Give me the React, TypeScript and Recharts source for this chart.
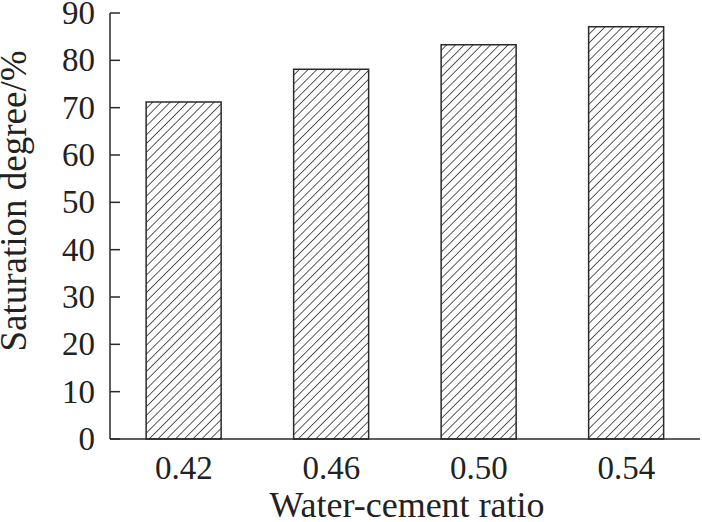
import React from 'react';
import { BarChart, Bar, XAxis, YAxis, Label } from 'recharts';

const categories = ['0.42', '0.46', '0.50', '0.54'];
const saturation = [71.2, 78.1, 83.3, 87.1];
const yTicks = [0, 10, 20, 30, 40, 50, 60, 70, 80, 90];

const data = categories.map((c, i) => ({ ratio: c, value: saturation[i] }));

const FONT = '"Liberation Serif", "Times New Roman", serif';
const INK = '#2a2a2a';
const TEXT = '#222';

const YTick = (props: any) => {
  const { x, y, payload } = props;
  return (
    <g>
      <line x1={x} y1={y} x2={x + 10} y2={y} stroke={INK} strokeWidth={1.5} />
      <text x={x - 15} y={y} dy={11} textAnchor="end" fontFamily={FONT} fontSize={33} fill={TEXT}>
        {payload.value}
      </text>
    </g>
  );
};

const XTick = (props: any) => {
  const { x, y, payload } = props;
  return (
    <text x={x} y={y} dy={40} textAnchor="middle" fontFamily={FONT} fontSize={33} fill={TEXT}>
      {payload.value}
    </text>
  );
};

const XTitle = (props: any) => {
  const vb = props.viewBox || {};
  return (
    <text
      x={vb.x + vb.width / 2 + 2}
      y={vb.y + 78}
      textAnchor="middle"
      fontFamily={FONT}
      fontSize={36}
      fill={TEXT}
    >
      Water-cement ratio
    </text>
  );
};

const YTitle = (props: any) => {
  const vb = props.viewBox || {};
  const cx = vb.x + 26;
  const cy = vb.y + 188;
  return (
    <text
      x={cx}
      y={cy}
      transform={`rotate(-90 ${cx} ${cy})`}
      textAnchor="middle"
      fontFamily={FONT}
      fontSize={37}
      fill={TEXT}
    >
      Saturation degree/%
    </text>
  );
};

export default function App() {
  return (
    <div style={{ position: 'absolute', left: 0, top: 0, width: 702, height: 522, background: '#fff' }}>
      <BarChart
        width={702}
        height={522}
        data={data}
        margin={{ top: 13, right: 2, bottom: 0, left: 0 }}
        barCategoryGap="24.5%"
      >
        <defs>
          <pattern id="hatch" patternUnits="userSpaceOnUse" width="6.2" height="6.2" patternTransform="rotate(45)">
            <rect x="0" y="0" width="6.2" height="6.2" fill="#fff" />
            <line x1="0" y1="0" x2="0" y2="6.2" stroke="#333" strokeWidth={1.6} />
          </pattern>
        </defs>
        <XAxis
          dataKey="ratio"
          height={83}
          axisLine={{ stroke: INK, strokeWidth: 1.5 }}
          tickLine={false}
          tickSize={0}
          tickMargin={0}
          tick={<XTick />}
        >
          <Label content={<XTitle />} />
        </XAxis>
        <XAxis
          xAxisId="top"
          dataKey="ratio"
          orientation="top"
          height={0}
          tick={false}
          tickLine={false}
          axisLine={{ stroke: INK, strokeWidth: 1.5 }}
        />
        <YAxis
          width={110}
          domain={[0, 90]}
          ticks={yTicks}
          interval={0}
          axisLine={{ stroke: INK, strokeWidth: 1.5 }}
          tickLine={false}
          tickSize={0}
          tickMargin={0}
          tick={<YTick />}
        >
          <Label content={<YTitle />} />
        </YAxis>
        <YAxis
          yAxisId="right"
          orientation="right"
          width={0}
          domain={[0, 90]}
          tick={false}
          tickLine={false}
          axisLine={{ stroke: INK, strokeWidth: 1.5 }}
        />
        <Bar dataKey="value" fill="url(#hatch)" stroke={INK} strokeWidth={1.5} isAnimationActive={false} />
      </BarChart>
    </div>
  );
}
